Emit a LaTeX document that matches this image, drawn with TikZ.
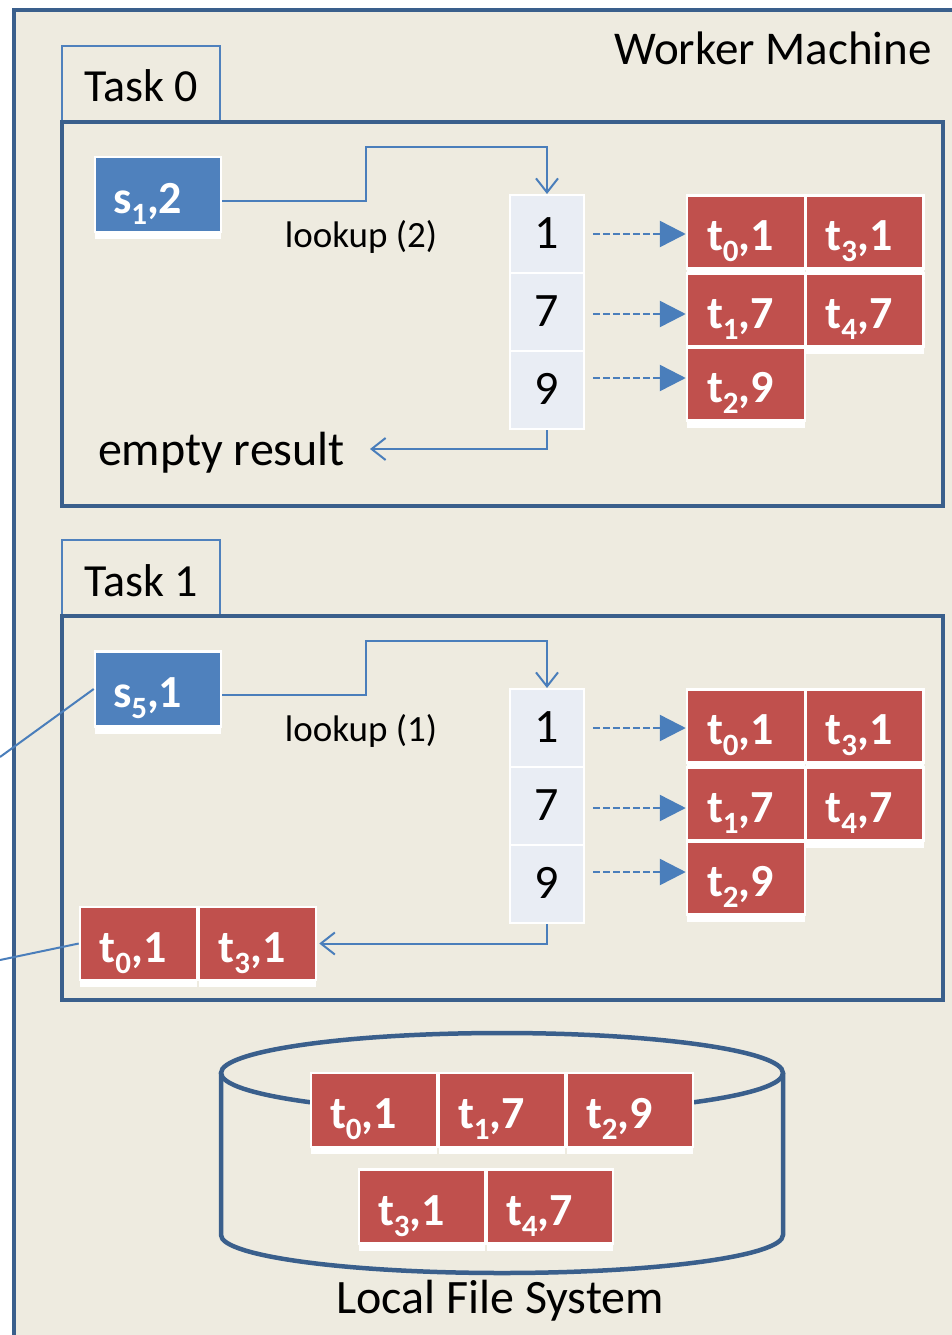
\documentclass[tikz,border=0pt]{standalone}
\usepackage{fontspec}
\setmainfont{Carlito}
\usetikzlibrary{arrows.meta,calc,shadows}
\definecolor{bgbeige}{HTML}{EEEBE0}
\definecolor{framecol}{HTML}{3A5F8C}
\definecolor{tabcol}{HTML}{4F81BD}
\definecolor{sblue}{HTML}{4F81BD}
\definecolor{tred}{HTML}{C0504D}
\definecolor{keyfill}{HTML}{E9EDF4}
\definecolor{linecol}{HTML}{4A7EBB}
\newcommand{\sbx}[1]{\raisebox{-11pt}{\fontsize{31pt}{31pt}\selectfont #1}}
\newcommand{\fWM}{\fontsize{47pt}{50pt}\selectfont}
\newcommand{\fTask}{\fontsize{46pt}{50pt}\selectfont}
\newcommand{\fLook}{\fontsize{37pt}{40pt}\selectfont}
\newcommand{\fBig}{\fontsize{48pt}{50pt}\selectfont}
\newcommand{\fBox}{\fontsize{46pt}{48pt}\selectfont\bfseries}
\begin{document}
\begin{tikzpicture}[x=1pt,y=-1pt,
  framebox/.style={draw=framecol, line width=4pt},
  tab/.style={draw=tabcol, line width=1.5pt, minimum width=158pt, minimum height=76pt, inner sep=0pt, text height=38pt, text depth=2pt, font=\fTask},
  taskbox/.style={draw=framecol, line width=4pt, minimum width=881pt, minimum height=384pt, inner sep=0pt},
  recbase/.style={draw=white, line width=2.5pt, text=white, font=\fBox, inner sep=0pt, minimum height=73pt, text height=41pt, text depth=4pt, align=left,
     drop shadow={fill=white, opacity=1, shadow xshift=0pt, shadow yshift=-7pt}},
  rec/.style={recbase, fill=tred, minimum width=118pt, text width=78pt},
  wrec/.style={recbase, fill=tred, minimum width=126pt, text width=88pt, minimum height=74pt},
  sbox/.style={recbase, fill=sblue, minimum width=126pt, text width=90pt, minimum height=75pt},
  keycell/.style={draw=white, line width=2pt, fill=keyfill, minimum width=74pt, minimum height=78pt, inner sep=0pt, font=\fBig, text height=32pt, text depth=4pt},
  conn/.style={draw=linecol, line width=2pt},
  barb/.style={conn, -{Straight Barb[length=14pt,width=22pt,line width=2pt]}},
  dasharr/.style={conn, line width=2.5pt, dash pattern=on 7pt off 3pt, -{Triangle[length=26pt,width=26pt]}},
  lbl/.style={anchor=base, inner sep=0pt}
]
\useasboundingbox (0,0) rectangle (951,1335);
\fill[white] (0,0) rectangle (951,1335);
\draw[framebox, fill=bgbeige] (14,10) rectangle (990,1380);
\node[lbl, font=\fWM] (wm) at (773,65) {Worker Machine};

% ---------- Task 0 ----------
\node[tab] (tab0) at (141,84) {Task 0};
\node[taskbox] (box0) at (502.5,314) {};
\node[sbox] (s1) at (158,194.5) {s\sbx{1},2};
\node[lbl, font=\fLook] (lk0) at (361,247) {lookup (2)};
\node[keycell] (k01) at (547,234) {1};
\node[keycell] (k07) at (547,312) {7};
\node[keycell] (k09) at (547,390) {9};
\node[rec] (a01) at (746,232) {t\sbx{0},1};
\node[rec] (a31) at (864.5,232) {t\sbx{3},1};
\node[rec] (a17) at (746,310) {t\sbx{1},7};
\node[rec] (a47) at (864.5,310) {t\sbx{4},7};
\node[rec] (a29) at (746,384) {t\sbx{2},9};
\node[lbl, font=\fBig] (empty) at (221.5,465) {empty result};
\coordinate (b0) at (366,147);
\coordinate (e0) at (370,449);
\draw[barb] ([yshift=-6pt]s1.east) -| (b0) -| (k01.north);
\draw[dasharr] ([xshift=8pt]k01.east |- 0,234) -- (a01.west |- 0,234);
\draw[dasharr] ([xshift=8pt]k07.east |- 0,314) -- (a17.west |- 0,314);
\draw[dasharr] ([xshift=8pt]k09.east |- 0,378) -- (a29.west |- 0,378);
\draw[barb] (k09.south) |- (e0);

% ---------- Task 1 ----------
\node[tab] (tab1) at (141,578) {Task 1};
\node[taskbox] (box1) at (502.5,808) {};
\node[sbox] (s5) at (158,689) {s\sbx{5},1};
\node[lbl, font=\fLook] (lk1) at (361,741) {lookup (1)};
\node[keycell] (k11) at (547,728) {1};
\node[keycell] (k17) at (547,806) {7};
\node[keycell] (k19) at (547,884) {9};
\node[rec] (b01) at (746,726) {t\sbx{0},1};
\node[rec] (b31) at (864.5,726) {t\sbx{3},1};
\node[rec] (b17) at (746,804) {t\sbx{1},7};
\node[rec] (b47) at (864.5,804) {t\sbx{4},7};
\node[rec] (b29) at (746,878) {t\sbx{2},9};
\node[rec, minimum width=117pt] (c01) at (138.5,943.5) {t\sbx{0},1};
\node[rec, minimum width=117pt] (c31) at (257.5,943.5) {t\sbx{3},1};
\coordinate (b1) at (366,641);
\draw[barb] ([yshift=-6pt]s5.east) -| (b1) -| (k11.north);
\draw[dasharr] ([xshift=8pt]k11.east |- 0,728) -- (b01.west |- 0,728);
\draw[dasharr] ([xshift=8pt]k17.east |- 0,808) -- (b17.west |- 0,808);
\draw[dasharr] ([xshift=8pt]k19.east |- 0,872) -- (b29.west |- 0,872);
\draw[barb] (k19.south) |- ([xshift=2pt]c31.east);

% incoming lines from the left
\coordinate (in1) at (0,757);
\coordinate (in2) at (0,960);
\draw[conn] (in1) -- (s5.west);
\draw[conn] (in2) -- (c01.west);

% ---------- Local file system ----------
\draw[framebox, line width=4.5pt] (221,1073) -- (221,1235) arc[start angle=180, end angle=0, x radius=281, y radius=38] -- (783,1073);
\draw[framebox, line width=4.5pt] (502,1073) ellipse[x radius=281, y radius=40];
\node[wrec] (f01) at (374,1110) {t\sbx{0},1};
\node[wrec] (f17) at (502,1110) {t\sbx{1},7};
\node[wrec] (f29) at (630,1110) {t\sbx{2},9};
\node[wrec] (f31) at (422,1206.5) {t\sbx{3},1};
\node[wrec] (f47) at (550,1206.5) {t\sbx{4},7};
\node[lbl, font=\fBig] (lfs) at (500,1313) {Local File System};
\end{tikzpicture}
\end{document}
